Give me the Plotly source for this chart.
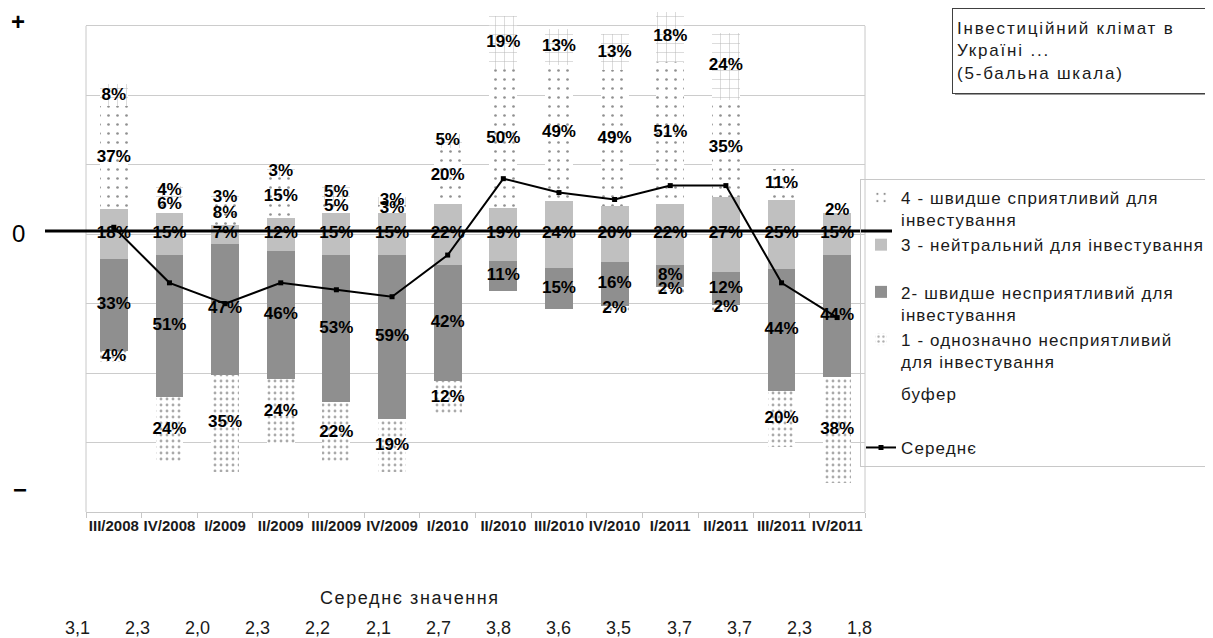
import plotly.graph_objects as go

# ---------------- data ----------------
categories = ["III/2008", "IV/2008", "I/2009", "II/2009", "III/2009", "IV/2009", "I/2010",
              "II/2010", "III/2010", "IV/2010", "I/2011", "II/2011", "III/2011", "IV/2011"]
s5_very_favourable = [8, 4, 3, 3, 5, 3, 5, 19, 13, 13, 18, 24, 0, 0]
s4_favourable = [37, 6, 8, 15, 5, 3, 20, 50, 49, 49, 51, 35, 11, 2]
s3_neutral = [18, 15, 7, 12, 15, 15, 22, 19, 24, 20, 22, 27, 25, 15]
s2_unfavourable = [33, 51, 47, 46, 53, 59, 42, 11, 15, 16, 8, 12, 44, 44]
s1_very_unfavourable = [4, 24, 35, 24, 22, 19, 12, 0, 0, 2, 2, 2, 20, 38]
mean_values = [3.1, 2.3, 2.0, 2.3, 2.2, 2.1, 2.7, 3.8, 3.6, 3.5, 3.7, 3.7, 2.3, 1.8]

CENTER = 100  # neutral mid-point on the percentage axis
buffer_values = [CENTER - a - b - c / 2 for a, b, c in
                 zip(s1_very_unfavourable, s2_unfavourable, s3_neutral)]

# ---------------- geometry (screen pixels; page body has an 8px margin) ----------------
W, H = 1213, 638
OFF = 8
L, R, B = 86, 865, 512          # plot edges on screen
Y_TOP_FRAME = 175
Y_MAX = 180
PPU = (B - 26) / Y_TOP_FRAME
T = B - Y_MAX * PPU


def paper(xp, yp):
    return (xp - L) / (R - L), (B - yp) / (B - T)


FONT = "Liberation Sans, Arial, sans-serif"


def spaced(text, ls):
    return "<br>".join(f'<span style="letter-spacing:{ls}px">{t}</span>' if t.strip() else t
                       for t in text.split("<br>"))


LEG_LS = 1.1

fig = go.Figure()

fig.add_trace(go.Bar(x=categories, y=buffer_values, name=spaced("буфер<br>\u00a0", LEG_LS),
                     marker=dict(color="rgba(0,0,0,0)", line=dict(width=0)),
                     legendgroup="g2", legendrank=5, hoverinfo="skip"))
fig.add_trace(go.Bar(x=categories, y=s1_very_unfavourable,
                     name=spaced("1 - однозначно несприятливий<br>для інвестування", LEG_LS),
                     marker=dict(color="white", line=dict(width=0),
                                 pattern=dict(shape=".", size=6, solidity=0.18,
                                              fgcolor="#555", bgcolor="white")),
                     legendgroup="g1", legendrank=4))
fig.add_trace(go.Bar(x=categories, y=s2_unfavourable,
                     name=spaced("2- швидше несприятливий для<br>інвестування", LEG_LS),
                     marker=dict(color="#8f8f8f", line=dict(width=0)),
                     legendgroup="g1", legendrank=3))
fig.add_trace(go.Bar(x=categories, y=s3_neutral,
                     name=spaced("3 - нейтральний для інвестування<br>\u00a0", LEG_LS),
                     marker=dict(color="#c0c0c0", line=dict(width=0)),
                     legendgroup="g1", legendrank=2))
fig.add_trace(go.Bar(x=categories, y=s4_favourable,
                     name=spaced("4 - швидше сприятливий для<br>інвестування", LEG_LS),
                     marker=dict(color="white", line=dict(width=0),
                                 pattern=dict(shape=".", size=9, solidity=0.07,
                                              fgcolor="#222", bgcolor="white")),
                     legendgroup="g1", legendrank=1))
fig.add_trace(go.Bar(x=categories, y=s5_very_favourable,
                     name="5 - однозначно сприятливий",
                     marker=dict(color="white", line=dict(width=0),
                                 pattern=dict(shape="+", size=9, solidity=0.1,
                                              fgcolor="#666", bgcolor="white")),
                     showlegend=False))

# mean line on secondary axis (3 = neutral centre, 1 point = 25 %)
fig.add_trace(go.Scatter(x=categories, y=mean_values, yaxis="y2",
                         name=spaced("Середнє", LEG_LS),
                         mode="lines+markers",
                         line=dict(color="black", width=2),
                         marker=dict(symbol="square", size=5, color="black"),
                         legendgroup="g3", legendrank=6))

# percent labels at segment centres
series = [s1_very_unfavourable, s2_unfavourable, s3_neutral, s4_favourable, s5_very_favourable]
base = list(buffer_values)
for s in series:
    mids = [b0 + v / 2 for b0, v in zip(base, s)]
    txt = [f"{v}%" if v > 0 else "" for v in s]
    fig.add_trace(go.Scatter(x=categories, y=mids, mode="text", text=txt,
                             textfont=dict(family=FONT, size=17, color="black", weight="bold"),
                             showlegend=False, hoverinfo="skip", cliponaxis=False))
    base = [b0 + v for b0, v in zip(base, s)]

# ---------------- shapes ----------------
shapes = []
for xr in (0, 1):
    shapes.append(dict(type="line", xref="x domain", yref="y", x0=xr, x1=xr, y0=0,
                       y1=Y_TOP_FRAME, line=dict(color="#c8c8c8", width=1), layer="below"))
x0p, y0p = paper(45, 231)
x1p, _ = paper(892, 231)
shapes.append(dict(type="line", xref="paper", yref="paper", x0=x0p, x1=x1p, y0=y0p, y1=y0p,
                   line=dict(color="black", width=3), layer="above"))
sx0, sy0 = paper(955, 11)
sx1, sy1 = paper(1213, 95)
shapes.append(dict(type="rect", xref="paper", yref="paper", x0=sx0, x1=sx1, y0=sy1, y1=sy0,
                   fillcolor="#9a9a9a", line=dict(width=0), layer="above"))

# ---------------- annotations ----------------
ann = []
for sym, xp, yp, wt in (("+", 18, 22, "bold"), ("0", 18, 234, "normal"), ("−", 20, 490, "bold")):
    ax, ay = paper(xp, yp)
    ann.append(dict(text=sym, x=ax, y=ay, xref="paper", yref="paper", showarrow=False,
                    xanchor="center", yanchor="middle",
                    font=dict(family=FONT, size=24, color="black", weight=wt)))

tx, ty = paper(952, 8)
ann.append(dict(text=spaced("Інвестиційний клімат в<br>Україні ...<br>(5-бальна шкала)", 1.8),
                x=tx, y=ty, xref="paper", yref="paper", xanchor="left", yanchor="top",
                showarrow=False, align="left", width=248, height=76, borderpad=4,
                bgcolor="white", bordercolor="#404040", borderwidth=1,
                font=dict(family=FONT, size=17, color="#1a1a1a")))

mx, my = paper(410, 598)
ann.append(dict(text=spaced("Середнє значення", 1.6), x=mx, y=my, xref="paper", yref="paper",
                xanchor="center", yanchor="middle", showarrow=False,
                font=dict(family=FONT, size=18, color="#1a1a1a")))
for i, v in enumerate(mean_values):
    vx, vy = paper(77 + i * 60.2, 628)
    ann.append(dict(text=f"{v:.1f}".replace(".", ","), x=vx, y=vy, xref="paper", yref="paper",
                    xanchor="center", yanchor="middle", showarrow=False,
                    font=dict(family=FONT, size=18, color="#1a1a1a")))

lx, ly = paper(860, 179)

fig.update_layout(
    width=W, height=H, autosize=False,
    margin=dict(l=L - OFF, r=W - R + OFF, t=T - OFF, b=H - B + OFF, pad=0, autoexpand=False),
    plot_bgcolor="white", paper_bgcolor="white",
    barmode="stack", bargap=0.5,
    showlegend=True,
    legend=dict(x=lx, y=ly, xanchor="left", yanchor="top", traceorder="grouped",
                valign="top", bgcolor="rgba(0,0,0,0)", bordercolor="#c8c8c8", borderwidth=1,
                font=dict(family=FONT, size=17, color="#1a1a1a"), itemwidth=30,
                tracegroupgap=7),
    xaxis=dict(type="category", range=[-0.5, len(categories) - 0.5], showgrid=False,
               showline=True, linecolor="#c8c8c8", linewidth=1, ticks="outside",
               tickson="boundaries", ticklen=5, tickcolor="#c8c8c8", tickangle=0,
               automargin=False,
               tickfont=dict(family=FONT, size=15, color="#1a1a1a", weight="bold"),
               fixedrange=True),
    yaxis=dict(range=[0, Y_MAX], tick0=0, dtick=25, showgrid=True, gridcolor="#cccccc",
               gridwidth=1, showticklabels=False, zeroline=False, showline=False,
               ticks="", fixedrange=True, automargin=False),
    yaxis2=dict(overlaying="y", range=[3 - CENTER / 25, 3 + (Y_MAX - CENTER) / 25],
                visible=False, fixedrange=True, automargin=False),
    shapes=shapes, annotations=ann,
)

fig.write_html("out.html")
